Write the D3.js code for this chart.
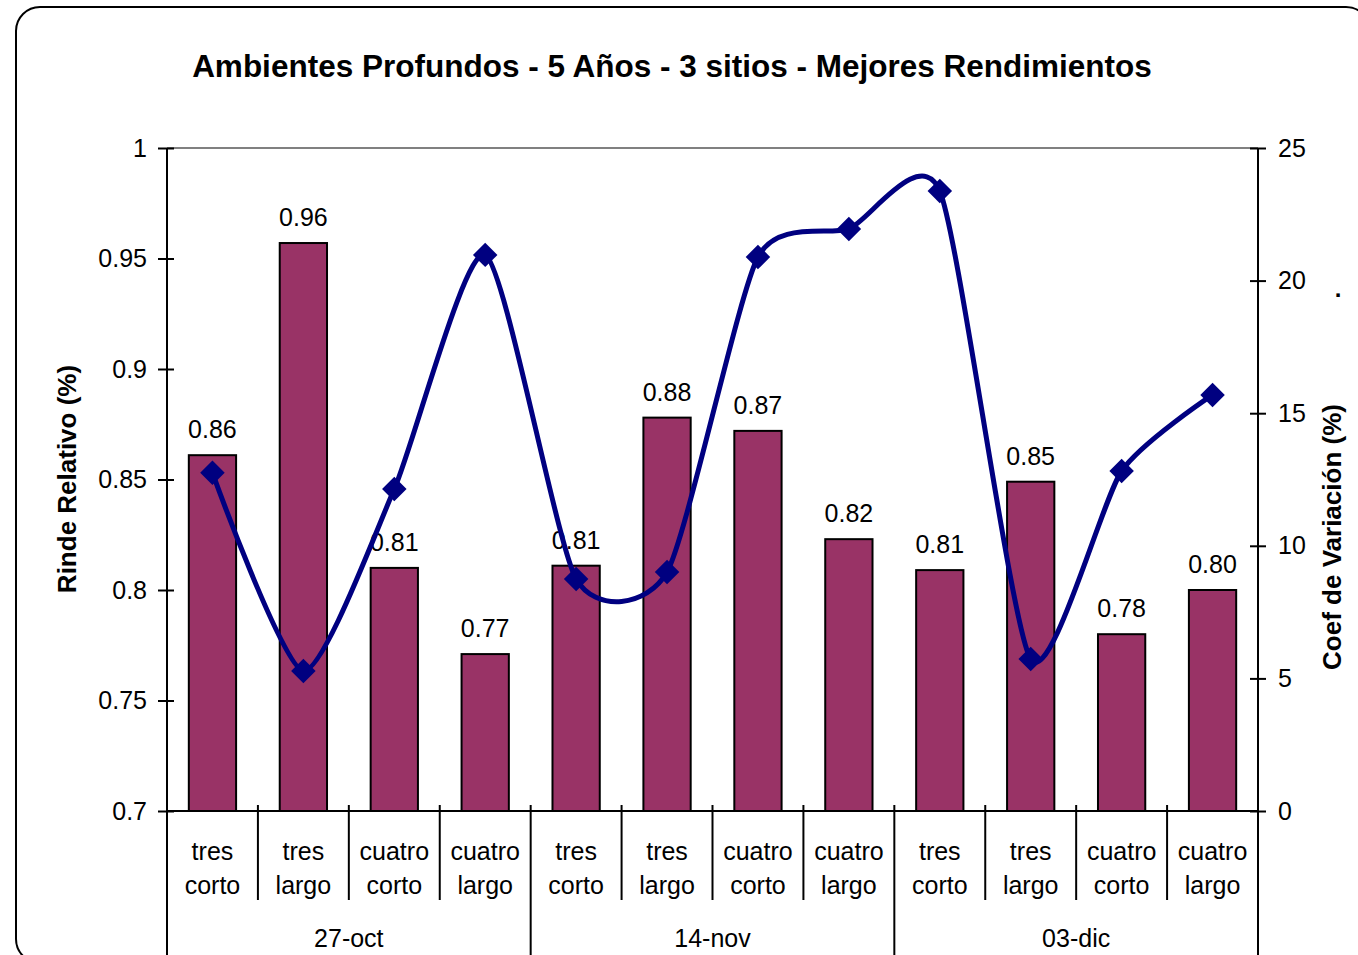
<!DOCTYPE html>
<html>
<head>
<meta charset="utf-8">
<script src="https://cdn.jsdelivr.net/npm/d3@7"></script>
<style>
  body { margin: 0; background: #fff; }
  svg text { font-family: "Liberation Sans", Arial, sans-serif; fill: #000; }
</style>
</head>
<body>
<div id="chart"></div>
<script>
const dates = ["27-oct", "14-nov", "03-dic"]
const subcats = [["tres", "corto"], ["tres", "largo"], ["cuatro", "corto"], ["cuatro", "largo"]]
const rinde = [0.861, 0.957, 0.810, 0.771, 0.811, 0.878, 0.872, 0.823, 0.809, 0.849, 0.780, 0.800]
const rindeLabels = ["0.86", "0.96", "0.81", "0.77", "0.81", "0.88", "0.87", "0.82", "0.81", "0.85", "0.78", "0.80"]
const coefVar = [12.75, 5.28, 12.14, 20.97, 8.75, 9.01, 20.89, 21.95, 23.38, 5.73, 12.82, 15.69]
const leftTicks = [0.7, 0.75, 0.8, 0.85, 0.9, 0.95, 1]
const rightTicks = [0, 5, 10, 15, 20, 25]

const width = 1358, height = 955
const plot = { left: 167, right: 1258, top: 148, bottom: 811 }
const fs = 25

// one entry per bar: date index + sub-category
const cats = []
dates.forEach((d, di) => subcats.forEach((s, si) => cats.push({ date: d, di, sub: s, id: di * 4 + si })))

const svg = d3.select("#chart").append("svg")
    .attr("width", width)
    .attr("height", height)

// outer frame (runs off the right and bottom edges)
svg.append("rect")
    .attr("x", 16).attr("y", 7)
    .attr("width", 1354).attr("height", 956)
    .attr("rx", 24).attr("ry", 24)
    .attr("fill", "none")
    .attr("stroke", "#000")
    .attr("stroke-width", 2)

svg.append("text")
    .attr("x", 672).attr("y", 77)
    .attr("text-anchor", "middle")
    .attr("font-size", 31.5)
    .attr("font-weight", "bold")
    .text("Ambientes Profundos - 5 Años - 3 sitios - Mejores Rendimientos")

const x = d3.scaleBand()
    .domain(cats.map(c => c.id))
    .range([plot.left, plot.right])
    .paddingInner(0.48)
    .paddingOuter(0.24)
const xCenter = i => x(i) + x.bandwidth() / 2
const xEdge = i => x(i) - x.step() * x.paddingInner() / 2

const y = d3.scaleLinear().domain([0.7, 1]).range([plot.bottom, plot.top])
const y2 = d3.scaleLinear().domain([0, 25]).range([plot.bottom, plot.top])

// top border of plot area
svg.append("line")
    .attr("x1", plot.left).attr("x2", plot.right)
    .attr("y1", plot.top).attr("y2", plot.top)
    .attr("stroke", "#808080")
    .attr("stroke-width", 2)

// bars
svg.append("g")
    .selectAll("rect")
    .data(cats)
    .join("rect")
    .attr("x", c => x(c.id))
    .attr("y", c => y(rinde[c.id]))
    .attr("width", x.bandwidth())
    .attr("height", c => y(0.7) - y(rinde[c.id]))
    .attr("fill", "#993366")
    .attr("stroke", "#000")
    .attr("stroke-width", 2)

// bar labels
svg.append("g")
    .selectAll("text")
    .data(cats)
    .join("text")
    .attr("x", c => xCenter(c.id))
    .attr("y", c => y(rinde[c.id]) - 17)
    .attr("text-anchor", "middle")
    .attr("font-size", fs)
    .text(c => rindeLabels[c.id])

// left axis
const leftAxis = svg.append("g")
    .attr("transform", `translate(${plot.left},0)`)
    .call(d3.axisLeft(y).tickValues(leftTicks).tickSize(0).tickPadding(20).tickFormat(d => String(+d.toFixed(2))))
leftAxis.select(".domain").remove()
leftAxis.selectAll("text").attr("font-size", fs).attr("font-family", null)
leftAxis.selectAll(".tick").append("line")
    .attr("x1", -9).attr("x2", 7).attr("stroke", "#000").attr("stroke-width", 2)
leftAxis.append("line")
    .attr("y1", plot.top).attr("y2", height)
    .attr("stroke", "#000").attr("stroke-width", 2)

// right axis
const rightAxis = svg.append("g")
    .attr("transform", `translate(${plot.right},0)`)
    .call(d3.axisRight(y2).tickValues(rightTicks).tickSize(0).tickPadding(20))
rightAxis.select(".domain").remove()
rightAxis.selectAll("text").attr("font-size", fs).attr("font-family", null)
rightAxis.selectAll(".tick").append("line")
    .attr("x1", -8).attr("x2", 8).attr("stroke", "#000").attr("stroke-width", 2)
rightAxis.append("line")
    .attr("y1", plot.top).attr("y2", height)
    .attr("stroke", "#000").attr("stroke-width", 2)

// category axis
svg.append("line")
    .attr("x1", plot.left).attr("x2", plot.right)
    .attr("y1", plot.bottom).attr("y2", plot.bottom)
    .attr("stroke", "#000").attr("stroke-width", 2)

svg.append("g")
    .selectAll("line")
    .data(cats.filter(c => c.id % 4 !== 0))
    .join("line")
    .attr("x1", c => xEdge(c.id))
    .attr("x2", c => xEdge(c.id))
    .attr("y1", plot.bottom - 6).attr("y2", 900)
    .attr("stroke", "#000").attr("stroke-width", 2)

svg.append("g")
    .selectAll("line")
    .data([4, 8])
    .join("line")
    .attr("x1", i => xEdge(i))
    .attr("x2", i => xEdge(i))
    .attr("y1", plot.bottom - 6).attr("y2", height)
    .attr("stroke", "#000").attr("stroke-width", 2)

const subLabels = svg.append("g")
    .selectAll("text")
    .data(cats)
    .join("text")
    .attr("text-anchor", "middle")
    .attr("font-size", fs)
subLabels.append("tspan")
    .attr("x", c => xCenter(c.id)).attr("y", 860)
    .text(c => c.sub[0])
subLabels.append("tspan")
    .attr("x", c => xCenter(c.id)).attr("y", 894)
    .text(c => c.sub[1])

svg.append("g")
    .selectAll("text")
    .data(dates)
    .join("text")
    .attr("x", (d, i) => (xCenter(i * 4) + xCenter(i * 4 + 3)) / 2)
    .attr("y", 947)
    .attr("text-anchor", "middle")
    .attr("font-size", fs)
    .text(d => d)

// axis titles
svg.append("text")
    .attr("transform", "translate(76,479) rotate(-90)")
    .attr("text-anchor", "middle")
    .attr("font-size", 26)
    .attr("font-weight", "bold")
    .text("Rinde Relativo (%)")

svg.append("text")
    .attr("transform", "translate(1341,537) rotate(-90)")
    .attr("text-anchor", "middle")
    .attr("font-size", 26)
    .attr("font-weight", "bold")
    .text("Coef de Variación (%)")

svg.append("text")
    .attr("x", 1338).attr("y", 297)
    .attr("text-anchor", "middle")
    .attr("font-size", 24)
    .attr("font-weight", "bold")
    .text(".")

// coefficient of variation line (smoothed like Excel)
const line = d3.line()
    .x((d, i) => xCenter(i))
    .y(d => y2(d))
    .curve(d3.curveCardinal.tension(0.35))

svg.append("path")
    .datum(coefVar)
    .attr("d", line)
    .attr("fill", "none")
    .attr("stroke", "#000080")
    .attr("stroke-width", 5)

svg.append("g")
    .selectAll("path")
    .data(coefVar)
    .join("path")
    .attr("d", d3.symbol(d3.symbolSquare, 300))
    .attr("transform", (d, i) => `translate(${xCenter(i)},${y2(d)}) rotate(45)`)
    .attr("fill", "#000080")
</script>
</body>
</html>
